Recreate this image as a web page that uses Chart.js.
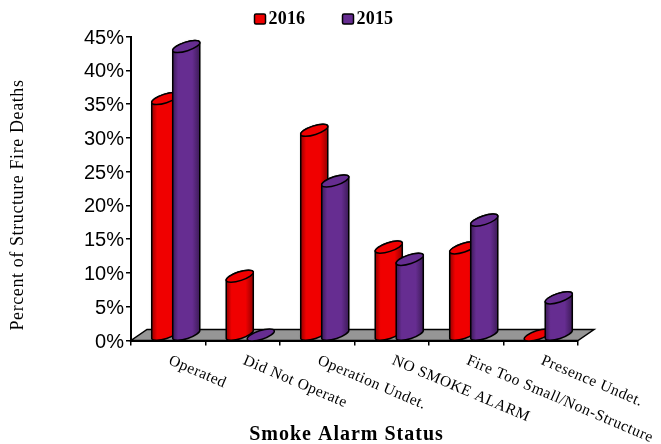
<!DOCTYPE html>
<html><head><meta charset="utf-8">
<script src="https://cdn.jsdelivr.net/npm/chart.js@4"></script>
<style>html,body{margin:0;padding:0;background:#fff}canvas{display:block}</style>
</head><body><canvas id="c" width="661" height="444"></canvas>
<script>
const categories = ["Operated","Did Not Operate","Operation Undet.","NO SMOKE ALARM","Fire Too Small/Non-Structure","Presence Undet."];
const series2016 = [35,8.7,30.3,13,12.9,0];
const series2015 = [42.7,0,22.8,11.2,17,5.5];
const seriesNames = ["2016","2015"];
const yTicks = [0,5,10,15,20,25,30,35,40,45];
const xTitle = "Smoke Alarm Status";
const yTitle = "Percent of Structure Fire Deaths";
const faces = [{main:"#f00000",dark:"#950000"},{main:"#662d91",dark:"#3d1b58"}];
const SERIF = '"Liberation Serif"';

const scene = {
  id:'scene',
  beforeDatasetsDraw(chart){
    const {ctx,chartArea:a} = chart;
    ctx.save();
    ctx.beginPath();
    ctx.moveTo(a.left,a.bottom);ctx.lineTo(a.right,a.bottom);
    ctx.lineTo(a.right+16,a.bottom-11);ctx.lineTo(a.left+16,a.bottom-11);ctx.closePath();
    ctx.fillStyle='#969696';ctx.fill();
    ctx.strokeStyle='#000';ctx.lineWidth=1.5;ctx.stroke();
    ctx.restore();
  },
  afterDatasetsDraw(chart){
    const {ctx} = chart;
    const rot=-18*Math.PI/180, b=4.4, dx=7.5, dy=5.5;
    chart.data.datasets.forEach((ds,i)=>{
      const meta=chart.getDatasetMeta(i), face=faces[i];
      meta.data.forEach(el=>{
        const p=el.getProps(['x','y','base','width'],true);
        const cx=p.x+dx, top=p.y-dy, bot=p.base-dy, r=p.width/2, a=r/Math.cos(rot);
        ctx.save();
        ctx.lineWidth=1.5;ctx.strokeStyle='#000';
        if(bot-top>0.5){
          const g=ctx.createLinearGradient(cx-r,0,cx+r,0);
          g.addColorStop(0,face.dark);g.addColorStop(.2,face.main);g.addColorStop(.72,face.main);g.addColorStop(1,face.dark);
          ctx.beginPath();
          ctx.ellipse(cx,bot,a,b,rot,0,Math.PI);
          ctx.ellipse(cx,top,a,b,rot,Math.PI,2*Math.PI);
          ctx.closePath();
          ctx.fillStyle=g;ctx.shadowColor='rgba(0,0,0,.35)';ctx.shadowBlur=2;ctx.fill();
          ctx.shadowBlur=0;ctx.stroke();
        }
        ctx.beginPath();ctx.ellipse(cx,top,a,b,rot,0,2*Math.PI);
        ctx.fillStyle=face.main;ctx.fill();ctx.stroke();
        ctx.restore();
      });
    });
  },
  afterDraw(chart){
    const {ctx,scales:{x}} = chart;
    ctx.save();
    ctx.fillStyle='#000';
    // category labels
    ctx.font='15.5px '+SERIF;ctx.textAlign='left';ctx.textBaseline='middle';
    ctx.letterSpacing='0.55px';
    categories.forEach((_,i)=>{
      ctx.save();
      ctx.translate(x.getPixelForTick(i)+1,360);
      ctx.rotate(23*Math.PI/180);
      ctx.fillText(x.getLabelForValue(i),0,0);
      ctx.restore();
    });
    // axis titles
    ctx.letterSpacing='0.6px';
    ctx.save();
    ctx.translate(18.5,205);ctx.rotate(-Math.PI/2);
    ctx.font='18px '+SERIF;ctx.textAlign='center';
    ctx.fillText(yTitle,0,0);ctx.restore();
    ctx.letterSpacing='1px';
    ctx.font='bold 20px '+SERIF;ctx.textAlign='center';
    ctx.fillText(xTitle,346.5,435);
    // legend
    ctx.letterSpacing='0.2px';
    ctx.font='bold 18px '+SERIF;ctx.textAlign='left';
    [254.5,342.5].forEach((lx,i)=>{
      ctx.fillStyle=faces[i].main;ctx.strokeStyle='#000';ctx.lineWidth=1.5;
      ctx.beginPath();ctx.roundRect(lx,14,11,10,1.5);ctx.fill();ctx.stroke();
      ctx.fillStyle='#000';
      ctx.fillText(chart.data.datasets[i].label,lx+14,19.5);
    });
    ctx.restore();
  }
};

new Chart(document.getElementById('c'),{
  type:'bar',
  data:{labels:categories,datasets:[
    {label:seriesNames[0],data:series2016,backgroundColor:'transparent',borderWidth:0},
    {label:seriesNames[1],data:series2015,backgroundColor:'transparent',borderWidth:0}
  ]},
  plugins:[scene],
  options:{
    responsive:false,animation:false,devicePixelRatio:1,
    categoryPercentage:0.564,barPercentage:1.286,
    layout:{padding:{top:36.5,right:83,left:0,bottom:0}},
    plugins:{legend:{display:false},tooltip:{enabled:false},title:{display:false}},
    scales:{
      x:{
        afterFit(s){s.height=103.5;},
        border:{color:'#000',width:2},
        grid:{offset:true,drawOnChartArea:false,drawTicks:true,tickLength:5,color:'#000',lineWidth:1.5},
        ticks:{display:false}
      },
      y:{
        min:0,max:45,
        afterFit(s){
          s.width=131;
          if(!s._labelShifted){
            const base=s._computeLabelItems;
            s._computeLabelItems=function(ca){
              const items=base.call(this,ca);
              items.forEach(it=>{it.options.translation=[it.options.translation[0],it.options.translation[1]+1.5];});
              return items;
            };
            s._labelShifted=true;
          }
        },
        afterBuildTicks(s){s.ticks=yTicks.map(v=>({value:v}));},
        border:{color:'#000',width:2},
        grid:{drawOnChartArea:false,drawTicks:true,tickLength:5,color:'#000',lineWidth:1.5},
        ticks:{color:'#000',font:{family:'"Liberation Sans"',size:20},padding:2,callback:v=>v+'%'}
      }
    }
  }
});
</script></body></html>
